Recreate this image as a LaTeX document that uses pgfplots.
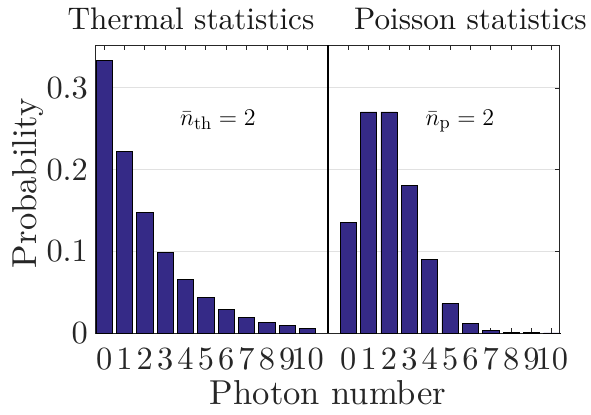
\documentclass[border=0pt]{standalone}
\usepackage{fontspec}
\setmainfont{lmroman10-regular.otf}
\usepackage{pgfplots}
\pgfplotsset{compat=1.18}
\definecolor{barc}{RGB}{53,42,135}
\definecolor{axc}{RGB}{38,38,38}
\definecolor{gridc}{RGB}{225,225,225}
\begin{document}
\begin{tikzpicture}
\useasboundingbox (-48pt,-40.5pt) rectangle (247.5pt,166.5pt);
\begin{axis}[
  at={(0,0)}, anchor=south west,
  scale only axis, width=232pt, height=143.75pt,
  xmin=-0.4, xmax=22.4, ymin=0, ymax=0.352,
  xtick={0,1,2,3,4,5,6,7,8,9,10,12,13,14,15,16,17,18,19,20,21,22},
  xticklabels={0,1,2,3,4,5,6,7,8,9,10,0,1,2,3,4,5,6,7,8,9,10},
  ytick={0,0.1,0.2,0.3}, yticklabels={0,0.1,0.2,0.3},
  /pgf/number format/assume math mode=true,
  tick align=inside, major tick length=2.5pt,
  axis line style={axc, line width=0.5pt},
  tick style={axc, line width=0.4pt},
  ymajorgrids, grid style={gridc, line width=0.5pt},
  tick label style={font=\fontsize{16.2}{19}\selectfont, text=black!85},
  xticklabel style={anchor=base, yshift=-18pt},
  yticklabel style={xshift=-0.5pt},
  xlabel={Photon number}, ylabel={Probability},
  label style={font=\fontsize{17.3}{21}\selectfont, text=black!85},
  xlabel style={at={(axis description cs:0.5,-0.2504)}, anchor=base},
  ylabel style={at={(axis description cs:-0.1466,0.521)}, anchor=center},
  clip=false,
]
\addplot[ybar, bar width=0.8, bar shift=0, fill=barc, draw=black, line width=0.4pt]
  coordinates {(0,0.3333) (1,0.2222) (2,0.1481) (3,0.0988) (4,0.0658) (5,0.0439)
               (6,0.0293) (7,0.0195) (8,0.0130) (9,0.0087) (10,0.0058)};
\addplot[ybar, bar width=0.8, bar shift=0, fill=barc, draw=black, line width=0.4pt]
  coordinates {(12,0.1353) (13,0.2707) (14,0.2707) (15,0.1804) (16,0.0902) (17,0.0361)
               (18,0.0120) (19,0.0034) (20,0.00086) (21,0.00019) (22,0.00004)};
\addplot[black, line width=1pt, forget plot] coordinates {(11,0) (11,0.352)};
\node[anchor=base, font=\fontsize{13}{15}\selectfont] at (axis cs:5.59,0.2546) {$\bar{n}_{\mathrm{th}}=2$};
\node[anchor=base, font=\fontsize{13}{15}\selectfont] at (axis cs:17.48,0.2546) {$\bar{n}_{\mathrm{p}}=2$};
\node[anchor=base, font=\fontsize{15.6}{19}\selectfont, text=black!90] at (rel axis cs:0.2047,1.054) {Thermal statistics};
\node[anchor=base, font=\fontsize{15.6}{19}\selectfont, text=black!90] at (rel axis cs:0.807,1.054) {Poisson statistics};
\end{axis}
\end{tikzpicture}
\end{document}
